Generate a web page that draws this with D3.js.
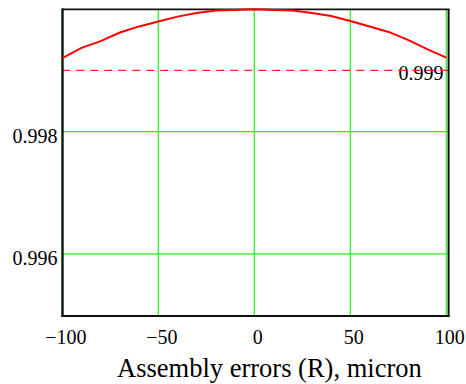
<!DOCTYPE html>
<html><head><meta charset="utf-8">
<script src="https://cdn.jsdelivr.net/npm/d3@7"></script>
<style>html,body{margin:0;padding:0;background:#fff;}svg{display:block;}</style>
</head><body>
<svg id="c" width="466" height="384"></svg>
<script>
const xValues = [-100,-90,-80,-70,-60,-50,-40,-30,-20,-10,0,10,20,30,40,50,60,70,80,90,100];
const yValues = [0.99920,0.99937,0.99948,0.99962,0.99972,0.99980,0.99988,0.99994,0.99998,0.99999,1.00000,0.99999,0.99998,0.99994,0.99989,0.99981,0.99972,0.99963,0.99950,0.99935,0.99921];
const xTicks = [-100,-50,0,50,100];
const xTickLabels = ["\u2212100","\u221250","0","50","100"];
const yTicks = [0.996,0.998];
const yTickLabels = ["0.996","0.998"];
const refValue = 0.999;
const refLabel = "0.999";
const xTitle = "Assembly errors (R), micron";

const svg = d3.select("#c");
const font = "'Liberation Serif','Times New Roman',serif";
const x = d3.scaleLinear().domain([-100,100]).range([62.3,446.3]);
const y = d3.scaleLinear().domain([0.995,1.0]).range([315,9.3]);

// grid
const grid = svg.append("g").attr("stroke","#22ee22").attr("stroke-width",1.2);
grid.selectAll("line.v").data(xTicks.slice(1)).enter().append("line")
  .attr("x1",d=>x(d)).attr("x2",d=>x(d)).attr("y1",y(1.0)).attr("y2",y(0.995));
grid.selectAll("line.h").data(yTicks).enter().append("line")
  .attr("x1",x(-100)).attr("x2",448).attr("y1",d=>y(d)).attr("y2",d=>y(d));

// reference label and dashed line
svg.append("text").attr("x",443.5).attr("y",y(refValue)+9.5).attr("text-anchor","end")
  .attr("font-family",font).attr("font-size",20).attr("fill","#000").text(refLabel);
svg.append("line").attr("x1",x(-100)).attr("x2",448).attr("y1",y(refValue)).attr("y2",y(refValue))
  .attr("stroke","#ff2020").attr("stroke-width",1.2).attr("stroke-dasharray","8,6");

// frame
svg.append("line").attr("x1",62).attr("x2",449.5).attr("y1",9.3).attr("y2",9.3).attr("stroke","#111").attr("stroke-width",1.8);
svg.append("line").attr("x1",448.6).attr("x2",448.6).attr("y1",9).attr("y2",317).attr("stroke","#111").attr("stroke-width",2);
svg.append("line").attr("x1",62.5).attr("x2",62.5).attr("y1",8.5).attr("y2",317).attr("stroke","#0a1a0a").attr("stroke-width",2.4);
svg.append("line").attr("x1",61.5).attr("x2",449.5).attr("y1",316).attr("y2",316).attr("stroke","#111").attr("stroke-width",2);

// curve
const line = d3.line().x((d,i)=>x(xValues[i])).y(d=>y(d));
svg.append("path").datum(yValues).attr("d",line).attr("fill","none")
  .attr("stroke","#ff0000").attr("stroke-width",2);

// y tick labels
svg.selectAll("text.yt").data(yTicks).enter().append("text")
  .attr("x",57.5).attr("y",d=>y(d)+11).attr("text-anchor","end")
  .attr("font-family",font).attr("font-size",20).attr("fill","#000")
  .text((d,i)=>yTickLabels[i]);

// x tick labels
svg.selectAll("text.xt").data(xTicks).enter().append("text")
  .attr("x",d=>x(d)+3.5).attr("y",344).attr("text-anchor","middle")
  .attr("font-family",font).attr("font-size",20).attr("fill","#000")
  .text((d,i)=>xTickLabels[i]);

// x title
svg.append("text").attr("x",269.4).attr("y",377).attr("text-anchor","middle")
  .attr("font-family",font).attr("font-size",26.5).attr("fill","#000").text(xTitle);
</script>
</body></html>
